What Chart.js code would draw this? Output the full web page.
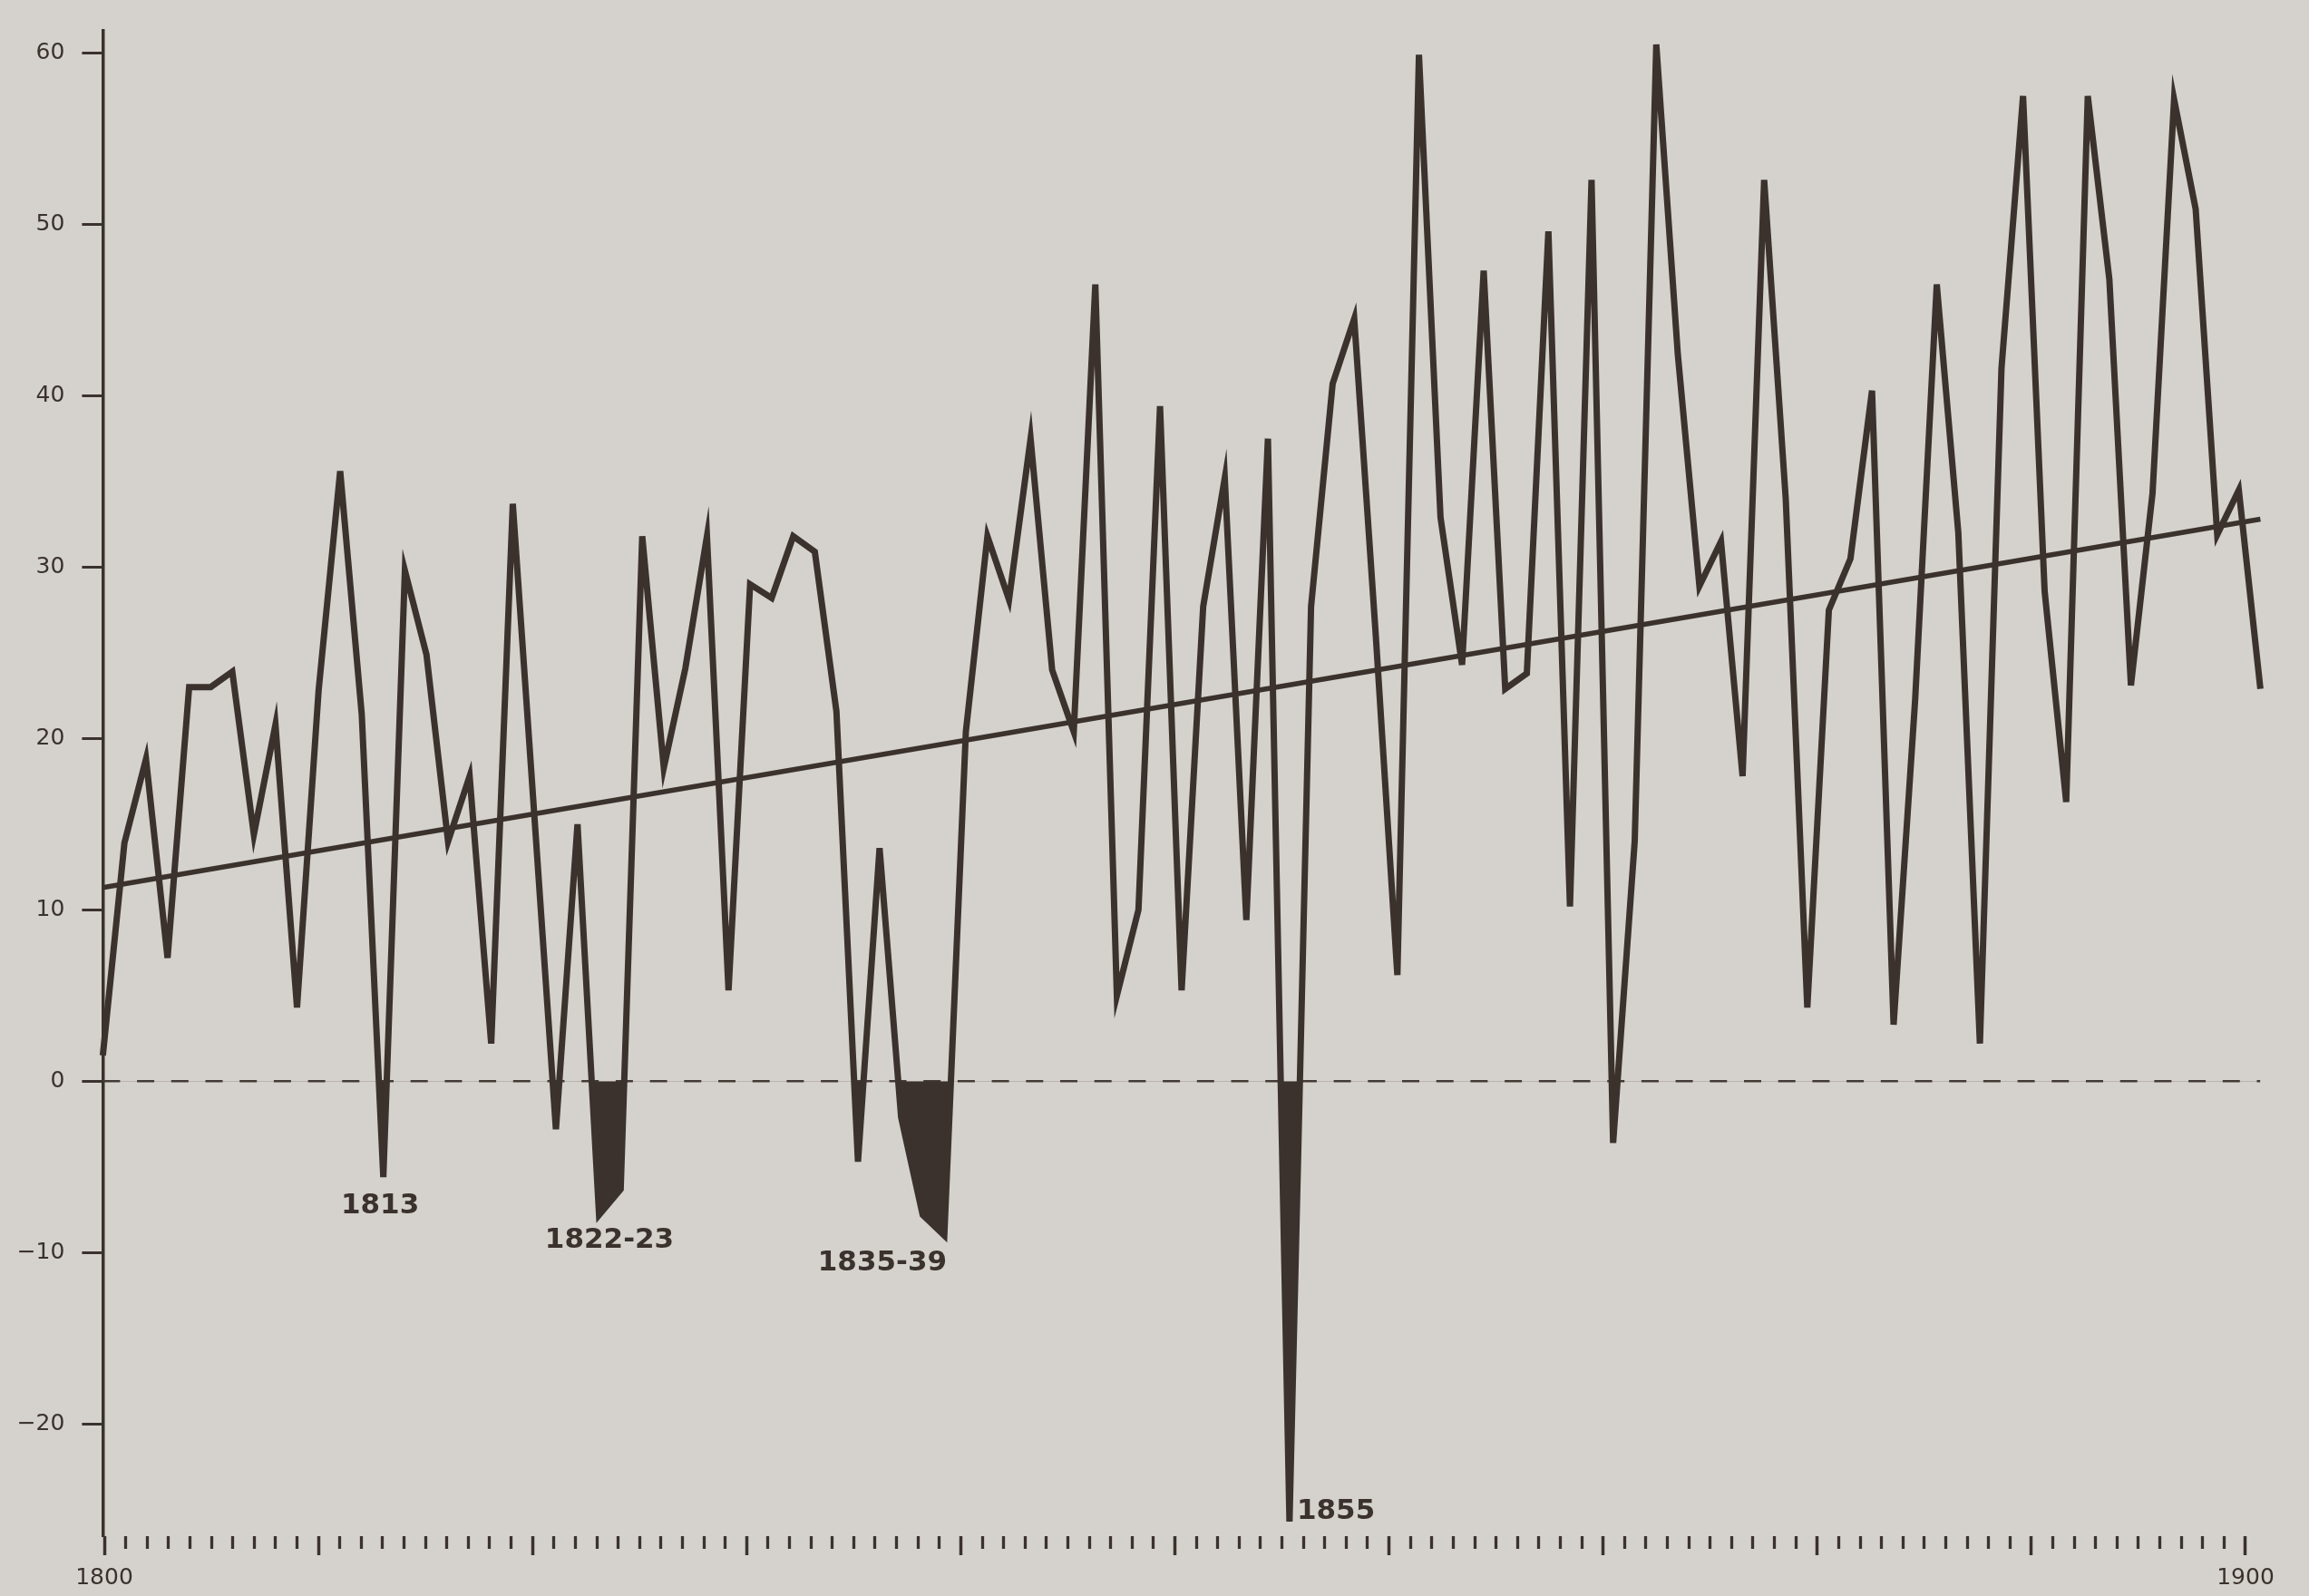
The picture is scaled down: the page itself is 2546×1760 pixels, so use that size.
<!DOCTYPE html>
<html>
<head>
<meta charset="utf-8">
<title>1800-1900</title>
<script src="https://cdn.jsdelivr.net/npm/chart.js@4.4.1/dist/chart.umd.min.js"></script>
<style>
    html, body { margin: 0; padding: 0; background: #d5d2cd; }
    #wrap { position: relative; width: 2546px; height: 1760px; }
</style>
</head>
<body>
<div id="wrap"><canvas id="chart"></canvas></div>
<script>
// yearly series (1800 .. 1900)
const years = [
    1800, 1801, 1802, 1803, 1804, 1805, 1806, 1807, 1808, 1809,
    1810, 1811, 1812, 1813, 1814, 1815, 1816, 1817, 1818, 1819,
    1820, 1821, 1822, 1823, 1824, 1825, 1826, 1827, 1828, 1829,
    1830, 1831, 1832, 1833, 1834, 1835, 1836, 1837, 1838, 1839,
    1840, 1841, 1842, 1843, 1844, 1845, 1846, 1847, 1848, 1849,
    1850, 1851, 1852, 1853, 1854, 1855, 1856, 1857, 1858, 1859,
    1860, 1861, 1862, 1863, 1864, 1865, 1866, 1867, 1868, 1869,
    1870, 1871, 1872, 1873, 1874, 1875, 1876, 1877, 1878, 1879,
    1880, 1881, 1882, 1883, 1884, 1885, 1886, 1887, 1888, 1889,
    1890, 1891, 1892, 1893, 1894, 1895, 1896, 1897, 1898, 1899,
    1900
];
const values = [
     1.5, 13.9, 18.8,  7.2, 23.0, 23.0, 23.9, 14.4, 20.8,  4.3,
    22.8, 35.6, 21.4, -5.6, 29.8, 24.9, 14.0, 17.8,  2.2, 33.7,
    15.5, -2.8, 15.0, -7.8, -6.3, 31.8, 18.3, 24.1, 31.8,  5.3,
    29.0, 28.2, 31.8, 30.9, 21.6, -4.7, 13.6, -2.1, -7.8, -9.0,
    20.4, 31.8, 28.1, 37.5, 24.0, 20.4, 46.5,  5.0, 10.0, 39.4,
     5.3, 27.7, 35.2,  9.4, 37.5,-25.7, 27.7, 40.7, 44.5, 26.0,
     6.2, 59.9, 32.9, 24.3, 47.3, 22.9, 23.8, 49.6, 10.2, 52.6,
    -3.6, 14.0, 60.5, 42.4, 28.9, 31.5, 17.8, 52.6, 34.0,  4.3,
    27.5, 30.5, 40.3,  3.3, 22.3, 46.5, 32.0,  2.2, 41.6, 57.5,
    28.6, 16.3, 57.5, 46.8, 23.1, 34.3, 57.3, 50.9, 31.9, 34.5,
    22.9
];

// straight trend line and the zero reference
const trendYears = [1800, 1900];
const trendValues = [11.3, 32.8];
const zeroYears = [1800, 1900];
const zeroValues = [0, 0];

// axes
const yTicks = [-20, -10, 0, 10, 20, 30, 40, 50, 60];
const majorTickYears = [1800, 1810, 1820, 1830, 1840, 1850, 1860, 1870, 1880, 1890, 1900];
const minorTickYears = years.filter(y => y % 10 !== 0);
const labelledYears = [1800, 1900];

// marked bad years
const eventLabels = ["1813", "1822-23", "1835-39", "1855"];

const INK = "#3b322d";
const FONT = '"DejaVu Sans", "Liberation Sans", sans-serif';

// where the event labels sit, in data units
const eventLabelSpots = [
    { year: 1812.85, value: -7.3, align: "center" },
    { year: 1823.48, value: -9.3, align: "center" },
    { year: 1836.13, value: -10.6, align: "center" },
    { year: 1855.34, value: -25.1, align: "left" }
];

const eventLabelPlugin = {
    id: "eventLabels",
    afterDatasetsDraw(chart) {
        const ctx = chart.ctx;
        const x = chart.scales.x;
        const y = chart.scales.y;
        ctx.save();
        ctx.fillStyle = INK;
        ctx.font = "bold 31px " + FONT;
        ctx.textBaseline = "middle";
        eventLabels.forEach((text, i) => {
            const spot = eventLabelSpots[i];
            ctx.textAlign = spot.align;
            ctx.fillText(text, x.getPixelForValue(spot.year), y.getPixelForValue(spot.value));
        });
        ctx.restore();
    }
};

function toPoints(xs, ys) {
    return xs.map((v, i) => ({ x: v, y: ys[i] }));
}

const ctx = document.getElementById("chart").getContext("2d");

new Chart(ctx, {
    type: "line",
    data: {
        datasets: [
            {
                data: toPoints(years, values),
                borderColor: INK,
                borderWidth: 7,
                borderJoinStyle: "miter",
                pointRadius: 0,
                tension: 0,
                clip: false,
                fill: {
                    target: { value: 0 },
                    above: "rgba(0,0,0,0)",
                    below: INK
                }
            },
            {
                data: toPoints(trendYears, trendValues),
                borderColor: INK,
                borderWidth: 5.5,
                pointRadius: 0,
                fill: false,
                clip: false
            },
            {
                data: toPoints(zeroYears, zeroValues),
                borderColor: "#453c37",
                borderWidth: 2.6,
                borderDash: [19, 18.7],
                pointRadius: 0,
                fill: false
            }
        ]
    },
    options: {
        responsive: true,
        maintainAspectRatio: false,
        animation: false,
        devicePixelRatio: 1,
        events: [],
        layout: {
            padding: { left: 0, top: 16, right: 53.6, bottom: 0 }
        },
        plugins: {
            legend: { display: false },
            tooltip: { enabled: false }
        },
        scales: {
            x: {
                type: "linear",
                display: false,
                min: 1800,
                max: 1900
            },
            xMinor: {
                type: "linear",
                position: "bottom",
                weight: 0,
                min: 1799.932,
                max: 1900.695,
                afterBuildTicks: (scale) => {
                    scale.ticks = minorTickYears.map(v => ({ value: v }));
                },
                afterFit: (scale) => { scale.height = 0; },
                border: { display: false },
                grid: {
                    display: true,
                    drawOnChartArea: false,
                    drawTicks: true,
                    tickLength: 14,
                    tickWidth: 3.3,
                    tickColor: INK
                },
                ticks: { display: false }
            },
            xMajor: {
                type: "linear",
                position: "bottom",
                weight: 1,
                min: 1799.932,
                max: 1900.695,
                afterBuildTicks: (scale) => {
                    scale.ticks = majorTickYears.map(v => ({ value: v }));
                },
                afterFit: (scale) => { scale.height = 66; },
                border: { display: false },
                grid: {
                    display: true,
                    drawOnChartArea: false,
                    drawTicks: true,
                    tickLength: 21,
                    tickWidth: 3.5,
                    tickColor: INK
                },
                ticks: {
                    autoSkip: false,
                    maxRotation: 0,
                    padding: 10,
                    color: INK,
                    font: { family: FONT, size: 25 },
                    callback: (v) => labelledYears.includes(v) ? String(v) : ""
                }
            },
            y: {
                type: "linear",
                min: -26.55,
                max: 61.3,
                afterBuildTicks: (scale) => {
                    scale.ticks = yTicks.map(v => ({ value: v }));
                },
                afterFit: (scale) => { scale.width = 113.4; },
                border: { display: true, color: INK, width: 3.5 },
                grid: {
                    display: true,
                    drawOnChartArea: false,
                    drawTicks: true,
                    tickLength: 23,
                    tickWidth: 3,
                    tickColor: INK
                },
                ticks: {
                    autoSkip: false,
                    padding: 19,
                    color: INK,
                    font: { family: FONT, size: 25 },
                    callback: (v) => v < 0 ? "\u2212" + Math.abs(v) : String(v)
                }
            }
        }
    },
    plugins: [eventLabelPlugin]
});
</script>
</body>
</html>
